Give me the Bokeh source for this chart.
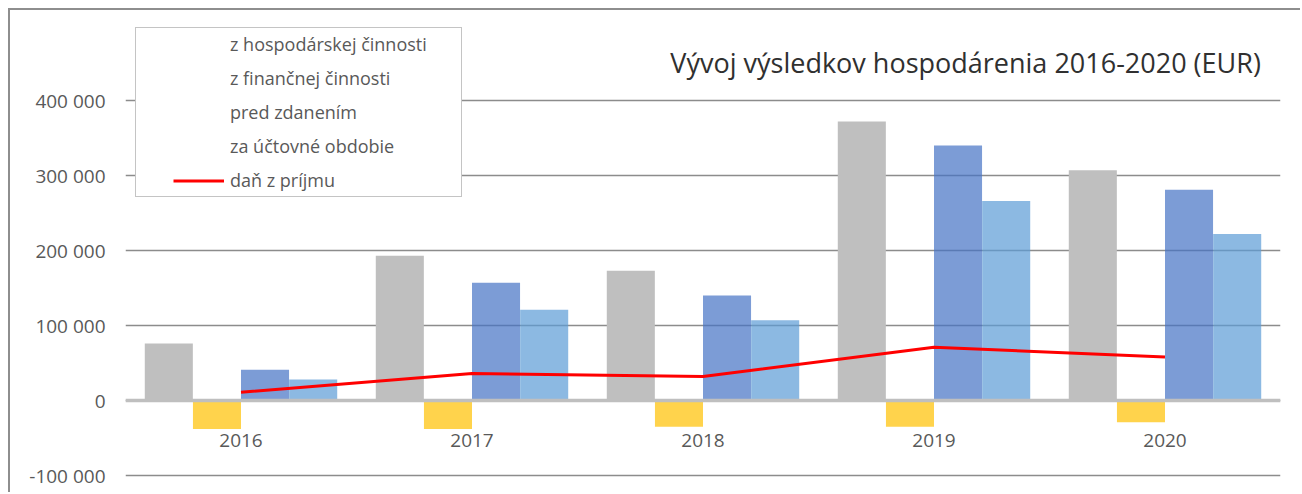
from bokeh.plotting import figure
from bokeh.models import ColumnDataSource, Legend, LegendItem, FixedTicker, Range1d, FactorRange, Label
from bokeh.transform import dodge
from bokeh.core.properties import value
from bokeh.embed import file_html
from bokeh.resources import INLINE

years = ["2016", "2017", "2018", "2019", "2020"]
hosp = [76000, 193000, 173000, 372000, 307000]
fin = [-38000, -38000, -35000, -35000, -29000]
pred = [41000, 157000, 140000, 340000, 281000]
obdobie = [28000, 121000, 107000, 266000, 222000]
dan = [11000, 36000, 32000, 71000, 58000]

series_names = ["z hospodárskej činnosti", "z finančnej činnosti", "pred zdanením",
                "za účtovné obdobie", "daň z príjmu"]
title_text = "Vývoj výsledkov hospodárenia 2016-2020 (EUR)"
y_ticks = [-100000, 0, 100000, 200000, 300000, 400000]
y_tick_labels = ["-100 000", "0", "100 000", "200 000", "300 000", "400 000"]

FONT = "Open Sans"
TXT = "#595959"

src = ColumnDataSource(dict(year=years, hosp=hosp, fin=fin, pred=pred, obdobie=obdobie, dan=dan))

p = figure(width=1292, height=484, output_backend="svg", toolbar_location=None,
           x_range=FactorRange(*years, range_padding=0),
           y_range=Range1d(-125333, 520000),
           min_border_left=115, min_border_right=22, min_border_top=0, min_border_bottom=0)
p.styles = {"margin-left": "8px", "margin-top": "8px",
            "border-top": "2px solid #8e8e8e", "border-left": "2px solid #8e8e8e"}
p.outline_line_color = None
p.background_fill_color = "white"
p.border_fill_color = "white"

# grid
p.xgrid.grid_line_color = None
p.ygrid.grid_line_color = "#8c8c8c"
p.ygrid.grid_line_width = 1.5
p.ygrid.ticker = FixedTicker(ticks=y_ticks)

w = 0.208
p.vbar(x=dodge("year", -0.3125, range=p.x_range), top="hosp", width=w, source=src,
       fill_color="#BFBFBF", line_color=None)
p.vbar(x=dodge("year", -0.104, range=p.x_range), top="fin", width=w, source=src,
       fill_color="#FFC000", fill_alpha=0.7, line_color=None)
p.vbar(x=dodge("year", 0.104, range=p.x_range), top="pred", width=w, source=src,
       fill_color="#4472C4", fill_alpha=0.7, line_color=None)
p.vbar(x=dodge("year", 0.3125, range=p.x_range), top="obdobie", width=w, source=src,
       fill_color="#5B9BD5", fill_alpha=0.7, line_color=None)
p.line(x="year", y="dan", source=src, line_color="#FF0000", line_width=3)

# axes
yax = p.yaxis[0]
yax.ticker = FixedTicker(ticks=y_ticks)
yax.major_label_overrides = {t: l for t, l in zip(y_ticks, y_tick_labels)}
yax.axis_line_color = None
yax.major_tick_line_color = None
yax.minor_tick_line_color = None
yax.major_label_standoff = 14
yax.major_label_text_font = FONT
yax.major_label_text_font_size = "19px"
yax.major_label_text_color = TXT

xax = p.xaxis[0]
xax.fixed_location = 0
xax.axis_line_color = "#BFBFBF"
xax.axis_line_width = 3.5
xax.major_tick_line_color = None
xax.minor_tick_line_color = None
xax.major_tick_out = 0
xax.major_label_standoff = 33
xax.major_label_text_font = FONT
xax.major_label_text_font_size = "19px"
xax.major_label_text_color = TXT

# title (inside the frame, so the legend is not clipped)
title = Label(x=4.915, y=451000, text=title_text, text_align="right",
              text_baseline="alphabetic", text_font=FONT, text_font_size="27px",
              text_color="#303030")
p.add_layout(title)

# legend with dummy renderers (bars have no visible swatch)
nan = float("nan")
dummies = []
for i in range(4):
    r = p.line(x=[years[0]], y=[nan], line_alpha=0)
    dummies.append(r)
rl = p.line(x=[years[0]], y=[nan], line_color="#FF0000", line_width=3, line_dash="51 33",
            line_dash_offset=51)
dummies.append(rl)
items = [LegendItem(label=value(n), renderers=[r]) for n, r in zip(series_names, dummies)]
legend = Legend(items=items, location=(10, 297), padding=4, margin=0, spacing=10,
                label_height=21, glyph_height=21, glyph_width=84, label_standoff=6,
                label_width=227, label_text_font=FONT, label_text_font_size="18px",
                label_text_color=TXT, border_line_color="#8a8a8a", border_line_width=1.5,
                background_fill_color="white", background_fill_alpha=1)
p.add_layout(legend, "center")

open("out.html", "w").write(file_html(p, INLINE))
